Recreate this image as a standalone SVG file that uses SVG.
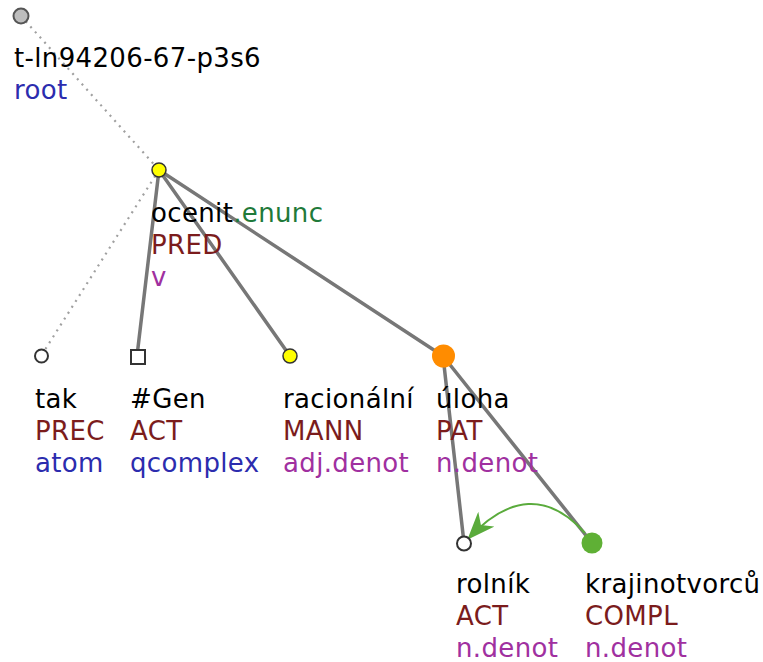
<svg xmlns="http://www.w3.org/2000/svg" width="763" height="662" viewBox="0 0 763 662">
  <style>
    text { font-family: "DejaVu Sans", Verdana, sans-serif; font-size: 26px; letter-spacing: 0.35px; }
    .lemma { fill: #000000; }
    .aspect { fill: #1f7a3a; }
    .functor { fill: #7b1c1c; }
    .kind { fill: #2c2cae; }
    .sempos { fill: #a030a0; }
    .edge { stroke: #777777; stroke-width: 3.5; fill: none; stroke-linecap: round; }
    .dotted { stroke: #a0a0a0; stroke-width: 2.2; fill: none; stroke-dasharray: 2 5; }
    .coref { stroke: #5aab3c; stroke-width: 2; fill: none; }
  </style>
  <defs>
    <marker id="corefHead" viewBox="0 0 28 22" refX="27" refY="11" markerWidth="28" markerHeight="22" markerUnits="userSpaceOnUse" orient="auto">
      <path d="M0,0 L28,11 L0,22 L8,11 Z" fill="#5aab3c"/>
    </marker>
  </defs>

  <g id="connectors">
    <line class="dotted" x1="21" y1="16" x2="159" y2="170"/>
    <line class="dotted" x1="159" y1="170" x2="41" y2="356"/>
    <line class="edge" x1="159" y1="170" x2="137" y2="356"/>
    <line class="edge" x1="159" y1="170" x2="290" y2="356"/>
    <line class="edge" x1="159" y1="170" x2="443" y2="356"/>
    <line class="edge" x1="443" y1="356" x2="464" y2="543"/>
    <line class="edge" x1="443" y1="356" x2="592" y2="543"/>
    <path class="coref" d="M585,533 Q530,472 468,539" marker-end="url(#corefHead)"/>
  </g>

  <g id="n-root">
    <circle cx="21" cy="16" r="7.5" fill="#bdbdbd" stroke="#555555" stroke-width="2"/>
    <text x="14" y="67" class="lemma">t-ln94206-67-p3s6</text>
    <text x="14" y="99" class="kind">root</text>
  </g>

  <g id="n-ocenit">
    <circle cx="159" cy="170" r="7" fill="#ffff00" stroke="#333333" stroke-width="1.5"/>
    <text x="151" y="222"><tspan class="lemma">ocenit</tspan><tspan class="aspect">.enunc</tspan></text>
    <text x="151" y="254" class="functor">PRED</text>
    <text x="151" y="286" class="sempos">v</text>
  </g>

  <g id="n-tak">
    <circle cx="41.5" cy="356" r="6.5" fill="#ffffff" stroke="#333333" stroke-width="2"/>
    <text x="35" y="408" class="lemma">tak</text>
    <text x="35" y="440" class="functor">PREC</text>
    <text x="35" y="472" class="kind">atom</text>
  </g>

  <g id="n-gen">
    <rect x="131" y="350" width="14" height="14" fill="#ffffff" stroke="#333333" stroke-width="2"/>
    <text x="130" y="408" class="lemma">#Gen</text>
    <text x="130" y="440" class="functor">ACT</text>
    <text x="130" y="472" class="kind">qcomplex</text>
  </g>

  <g id="n-racionalni">
    <circle cx="290" cy="356" r="7" fill="#ffff00" stroke="#333333" stroke-width="1.5"/>
    <text x="283" y="408" class="lemma">racionální</text>
    <text x="283" y="440" class="functor">MANN</text>
    <text x="283" y="472" class="sempos">adj.denot</text>
  </g>

  <g id="n-uloha">
    <circle cx="443.5" cy="356" r="11.5" fill="#ff8c00"/>
    <text x="436" y="408" class="lemma">úloha</text>
    <text x="436" y="440" class="functor">PAT</text>
    <text x="436" y="472" class="sempos">n.denot</text>
  </g>

  <g id="n-rolnik">
    <circle cx="464" cy="543.5" r="7" fill="#ffffff" stroke="#333333" stroke-width="2"/>
    <text x="456" y="593" class="lemma">rolník</text>
    <text x="456" y="625" class="functor">ACT</text>
    <text x="456" y="657" class="sempos">n.denot</text>
  </g>

  <g id="n-krajinotvorcu">
    <circle cx="592" cy="543" r="10.5" fill="#5fb035"/>
    <text x="585" y="593" class="lemma">krajinotvorců</text>
    <text x="585" y="625" class="functor">COMPL</text>
    <text x="585" y="657" class="sempos">n.denot</text>
  </g>
</svg>
